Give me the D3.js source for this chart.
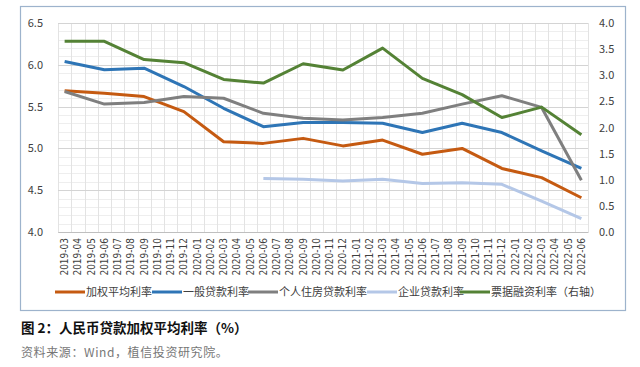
<!DOCTYPE html>
<html>
<head>
<meta charset="utf-8">
<script src="https://cdn.jsdelivr.net/npm/d3@7"></script>
<style>
  body { margin: 0; background: #fff; }
  text { font-family: "Noto Sans CJK SC", "DejaVu Sans", sans-serif; }
</style>
</head>
<body>
<div id="chart"></div>
<script>
var width = 640;
var height = 367;

// categories (monthly ticks)
var months = ["2019-03", "2019-04", "2019-05", "2019-06", "2019-07", "2019-08", "2019-09", "2019-10",
    "2019-11", "2019-12", "2020-01", "2020-02", "2020-03", "2020-04", "2020-05", "2020-06",
    "2020-07", "2020-08", "2020-09", "2020-10", "2020-11", "2020-12", "2021-01", "2021-02",
    "2021-03", "2021-04", "2021-05", "2021-06", "2021-07", "2021-08", "2021-09", "2021-10",
    "2021-11", "2021-12", "2022-01", "2022-02", "2022-03", "2022-04", "2022-05", "2022-06"];

// data points are quarterly
var quarters = ["2019-03", "2019-06", "2019-09", "2019-12", "2020-03", "2020-06", "2020-09",
    "2020-12", "2021-03", "2021-06", "2021-09", "2021-12", "2022-03", "2022-06"];

var weighted = [5.69, 5.66, 5.62, 5.44, 5.08, 5.06, 5.12, 5.03, 5.10, 4.93, 5.00, 4.76, 4.65, 4.41];
var general = [6.04, 5.94, 5.96, 5.74, 5.48, 5.26, 5.31, 5.31, 5.30, 5.19, 5.30, 5.19, 4.97, 4.76];
var mortgage = [5.68, 5.53, 5.55, 5.62, 5.60, 5.42, 5.36, 5.34, 5.37, 5.42, 5.53, 5.63, 5.49, 4.62];
var enterprise = [null, null, null, null, null, 4.64, 4.63, 4.61, 4.63, 4.58, 4.59, 4.57, 4.37, 4.16];
var bill = [3.65, 3.65, 3.30, 3.24, 2.92, 2.85, 3.22, 3.10, 3.52, 2.94, 2.63, 2.19, 2.39, 1.86];

var leftTicks = [4.0, 4.5, 5.0, 5.5, 6.0, 6.5];
var rightTicks = [0.0, 0.5, 1.0, 1.5, 2.0, 2.5, 3.0, 3.5, 4.0];

var seriesNames = ["加权平均利率", "一般贷款利率", "个人住房贷款利率", "企业贷款利率", "票据融资利率（右轴）"];
var seriesColors = ["#C55A11", "#2E75B6", "#7F7F7F", "#B4C7E7", "#548235"];
var seriesData = [weighted, general, mortgage, enterprise, bill];

var svg = d3.select("#chart").append("svg")
    .attr("width", width)
    .attr("height", height);

// outer frame
svg.append("rect")
    .attr("x", 20.5)
    .attr("y", 6.5)
    .attr("width", 605)
    .attr("height", 304)
    .attr("fill", "none")
    .attr("stroke", "#9DB3CC")
    .attr("stroke-width", 1.2);

var plotLeft = 58, plotRight = 588, plotTop = 23, plotBottom = 232;

var x = d3.scaleBand()
    .domain(months)
    .range([plotLeft, plotRight]);

var yL = d3.scaleLinear().domain([4.0, 6.5]).range([plotBottom, plotTop]);
var yR = d3.scaleLinear().domain([0, 4]).range([plotBottom, plotTop]);

// minor horizontal grid
svg.append("g")
    .selectAll("line")
    .data(d3.range(40, 66).map(function (d) { return d / 10; }))
    .enter().append("line")
    .attr("x1", plotLeft)
    .attr("x2", plotRight)
    .attr("y1", function (d) { return Math.round(yL(d)) + 0.5; })
    .attr("y2", function (d) { return Math.round(yL(d)) + 0.5; })
    .attr("stroke", "#EEEEEE");

// vertical grid at category boundaries
svg.append("g")
    .selectAll("line")
    .data(months.concat(["end"]))
    .enter().append("line")
    .attr("x1", function (d, i) { return Math.round(plotLeft + i * x.step()) + 0.5; })
    .attr("x2", function (d, i) { return Math.round(plotLeft + i * x.step()) + 0.5; })
    .attr("y1", plotTop)
    .attr("y2", plotBottom)
    .attr("stroke", "#E3E3E3");

// major horizontal grid
svg.append("g")
    .selectAll("line")
    .data(leftTicks)
    .enter().append("line")
    .attr("x1", plotLeft)
    .attr("x2", plotRight)
    .attr("y1", function (d) { return Math.round(yL(d)) + 0.5; })
    .attr("y2", function (d) { return Math.round(yL(d)) + 0.5; })
    .attr("stroke", "#D4D4D4");

// axes
var xAxis = svg.append("g")
    .attr("transform", "translate(0," + plotBottom + ")")
    .call(d3.axisBottom(x).tickSize(0).tickPadding(0));
xAxis.select(".domain").attr("stroke", "#BFBFBF");
xAxis.selectAll("text")
    .attr("transform", "rotate(-90)")
    .attr("x", -6)
    .attr("y", 0)
    .attr("dy", "0.35em")
    .style("text-anchor", "end")
    .style("font-size", "10px")
    .style("font-family", "'Liberation Sans Narrow', 'DejaVu Sans Condensed', sans-serif")
    .attr("fill", "#404040");

var leftAxis = svg.append("g")
    .attr("transform", "translate(" + (plotLeft - 12) + ",0)")
    .call(d3.axisLeft(yL).tickValues(leftTicks).tickFormat(d3.format(".1f")).tickSize(0));
leftAxis.select(".domain").remove();
leftAxis.selectAll("text")
    .style("font-size", "11px")
    .attr("fill", "#404040");

var rightAxis = svg.append("g")
    .attr("transform", "translate(" + (plotRight + 8) + ",0)")
    .call(d3.axisRight(yR).tickValues(rightTicks).tickFormat(d3.format(".1f")).tickSize(0));
rightAxis.select(".domain").remove();
rightAxis.selectAll("text")
    .style("font-size", "11px")
    .attr("fill", "#404040");

// lines
var cx = function (i) { return x(quarters[i]) + x.bandwidth() / 2; };

seriesData.forEach(function (vals, s) {
    var yScale = s === 4 ? yR : yL;
    var line = d3.line()
        .defined(function (d) { return d != null; })
        .x(function (d, i) { return cx(i); })
        .y(function (d) { return yScale(d); });
    svg.append("path")
        .datum(vals)
        .attr("fill", "none")
        .attr("stroke", seriesColors[s])
        .attr("stroke-width", 3)
        .attr("stroke-linejoin", "round")
        .attr("d", line);
});

// legend
var legendX = [55, 152, 248, 367, 460];
var legend = svg.append("g")
    .attr("transform", "translate(0,292)");
var items = legend.selectAll("g")
    .data(seriesNames)
    .enter().append("g")
    .attr("transform", function (d, i) { return "translate(" + legendX[i] + ",0)"; });
items.append("line")
    .attr("x1", 0)
    .attr("x2", 30)
    .attr("stroke", function (d, i) { return seriesColors[i]; })
    .attr("stroke-width", 3);
items.append("text")
    .attr("x", 31)
    .attr("dy", "0.35em")
    .style("font-size", "11px")
    .attr("fill", "#404040")
    .text(function (d) { return d; });

// caption
svg.append("text")
    .attr("x", 21)
    .attr("y", 333)
    .style("font-size", "13.5px")
    .style("font-weight", "bold")
    .attr("fill", "#111")
    .text("图 2：人民币贷款加权平均利率（%）");

svg.append("text")
    .attr("x", 21)
    .attr("y", 357)
    .style("font-size", "12px")
    .style("letter-spacing", "0.6px")
    .attr("fill", "#777")
    .text("资料来源：Wind，植信投资研究院。");
</script>
</body>
</html>
